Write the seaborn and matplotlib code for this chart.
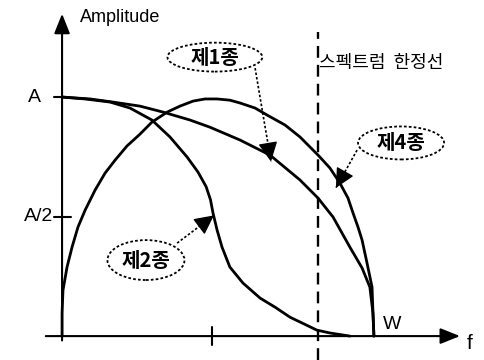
import numpy as np
import pandas as pd
import seaborn as sns
import matplotlib.pyplot as plt
from matplotlib.patches import Ellipse

sns.set_theme(style="white")
plt.rcParams['font.family'] = ['Liberation Sans', 'Noto Sans CJK KR']

# curves (x in units of W, y in units of A)
c1_x = [0, 0.09, 0.163, 0.25, 0.324, 0.41, 0.474, 0.571, 0.667, 0.763, 0.821, 0.869, 0.923, 0.962, 0.987, 0.997, 1.0]
c1_y = [1.0, 0.992, 0.979, 0.962, 0.937, 0.904, 0.874, 0.82, 0.757, 0.653, 0.577, 0.498, 0.372, 0.285, 0.205, 0.096, 0.0]

c2_x = [0, 0.074, 0.154, 0.218, 0.288, 0.346, 0.401, 0.436, 0.462, 0.476, 0.484, 0.497, 0.513, 0.538, 0.58,
        0.635, 0.683, 0.731, 0.763, 0.817, 0.859, 0.923]
c2_y = [1.0, 0.992, 0.979, 0.954, 0.904, 0.833, 0.749, 0.686, 0.625, 0.57, 0.515, 0.444, 0.372, 0.289, 0.222,
        0.159, 0.121, 0.079, 0.059, 0.025, 0.013, 0.0]

c4_x = [0, 0, 0.003, 0.016, 0.032, 0.051, 0.074, 0.106, 0.138, 0.17, 0.208, 0.25, 0.288, 0.337, 0.378, 0.42,
        0.458, 0.497, 0.538, 0.571, 0.619, 0.657, 0.715, 0.763, 0.821, 0.859, 0.891, 0.917, 0.933, 0.949,
        0.962, 0.978, 0.994, 0.997, 1.0]
c4_y = [0, 0.096, 0.192, 0.289, 0.372, 0.456, 0.527, 0.611, 0.682, 0.736, 0.795, 0.845, 0.895, 0.937, 0.962,
        0.983, 0.992, 0.992, 0.987, 0.975, 0.954, 0.925, 0.883, 0.833, 0.757, 0.703, 0.64, 0.577, 0.515, 0.456,
        0.402, 0.305, 0.205, 0.096, 0.0]

limit_x = 0.821     # 스펙트럼 한정선
half_x = 0.48       # tick on f axis
y_ticks = [1.0, 0.5]
y_labels = ['A', 'A/2']

labels = ['제1종', '제2종', '제4종']
label_xy = [(0.49, 1.167), (0.269, 0.318), (1.087, 0.808)]
label_wh = [(0.304, 0.121), (0.247, 0.167), (0.276, 0.138)]
leader_from = [(0.619, 1.121), (0.369, 0.389), (0.946, 0.778)]
leader_to = [(0.670, 0.730), (0.487, 0.505), (0.878, 0.62)]

fig = plt.figure(figsize=(4.84, 3.6), dpi=100)
ax = fig.add_axes([0, 0, 1, 1])
ax.set_xlim(-0.199, 1.353)
ax.set_ylim(-0.100, 1.406)
ax.axis('off')

for xs, ys in [(c1_x, c1_y), (c2_x, c2_y), (c4_x, c4_y)]:
    df = pd.DataFrame({'x': xs, 'y': ys})
    sns.lineplot(data=df, x='x', y='y', sort=False, estimator=None, color='black', lw=2.0,
                 solid_joinstyle='round', ax=ax)

# axes with arrows
ax.annotate('', xy=(1.285, 0.0), xytext=(-0.061, 0.0),
            arrowprops=dict(arrowstyle='-|>,head_length=0.5,head_width=0.2', color='black', lw=1.5, mutation_scale=24))
ax.annotate('', xy=(0.0, 1.36), xytext=(0.0, -0.03),
            arrowprops=dict(arrowstyle='-|>,head_length=0.5,head_width=0.2', color='black', lw=1.5, mutation_scale=24))
for yt, lab in zip(y_ticks, y_labels):
    ax.plot([-0.025, 0.03 if yt < 1 else 0.0], [yt, yt], color='black', lw=1.5)
    ax.text(-0.03 if yt < 1 else -0.09, yt, lab, ha='right' if yt < 1 else 'center', va='center', fontsize=14, color='black')
ax.plot([half_x, half_x], [-0.038, 0.038], color='black', lw=1.5)

ax.text(0.058, 1.331, 'Amplitude', ha='left', va='center', fontsize=13, color='black')
ax.text(1.058, 0.05, 'W', ha='center', va='center', fontsize=14, color='black')
ax.text(1.308, -0.03, 'f', ha='center', va='center', fontsize=15, color='black')

# spectrum limit line
ax.plot([limit_x, limit_x], [-0.1, 1.272], color='black', lw=1.7, ls=(0, (5, 3)))
ax.text(limit_x + 0.003, 1.142, '스펙트럼  한정선', ha='left', va='center', fontsize=13,
        family=['Noto Sans CJK KR'], color='black')

for lab, (cx, cy), (w, h), p0, p1 in zip(labels, label_xy, label_wh, leader_from, leader_to):
    ax.add_patch(Ellipse((cx, cy), w, h, fill=False, ec='black', lw=1.3, ls=(0, (1.5, 1.2))))
    ax.text(cx, cy, lab, ha='center', va='center', fontsize=14.5, weight='bold',
            family=['Noto Sans CJK KR', 'DejaVu Sans'], color='black')
    # dotted leader, then a solid filled head at the curve
    ax.plot([p0[0], p1[0]], [p0[1], p1[1]], color='black', lw=1.2, ls=(0, (1.5, 1.2)))
    mid = (p0[0] + 0.85 * (p1[0] - p0[0]), p0[1] + 0.85 * (p1[1] - p0[1]))
    ax.annotate('', xy=p1, xytext=mid,
                arrowprops=dict(arrowstyle='-|>,head_length=0.6,head_width=0.3', color='black', lw=1.0,
                                mutation_scale=20, shrinkA=0, shrinkB=0))

fig.savefig('out.png', dpi=100, facecolor='white')
